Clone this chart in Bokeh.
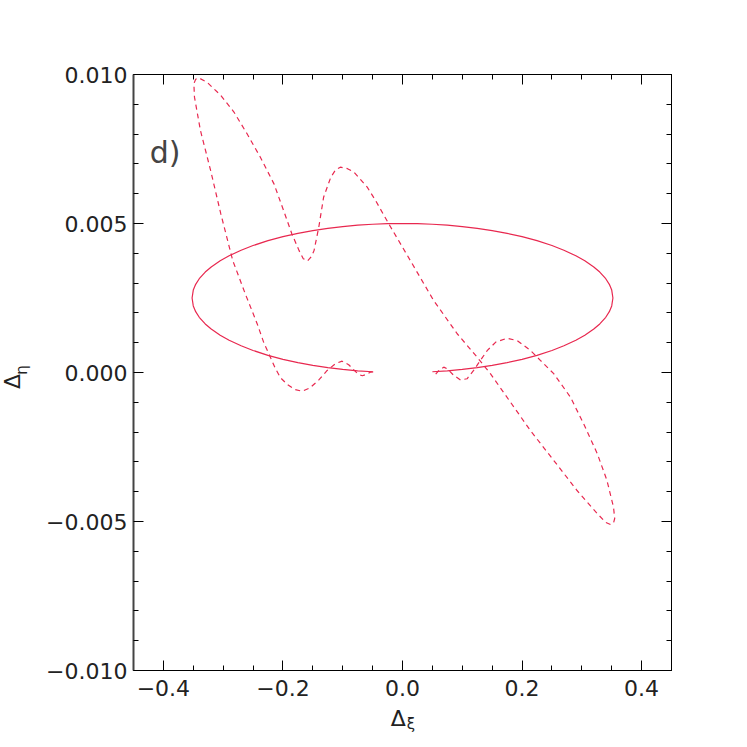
from bokeh.plotting import figure
from bokeh.models import LinearAxis, FixedTicker, CustomJSTickFormatter, Range1d, Label
from bokeh.embed import file_html
from bokeh.resources import INLINE

# ---- data ----
ell_x = [-0.050, -0.075, -0.100, -0.125, -0.150, -0.175, -0.200, -0.225, -0.250, -0.270,
         -0.290, -0.305, -0.320, -0.330, -0.340, -0.346, -0.350, -0.352,
         -0.350, -0.346, -0.340, -0.330, -0.320, -0.305, -0.290, -0.270, -0.250, -0.225,
         -0.200, -0.175, -0.150, -0.125, -0.100, -0.075, -0.050, -0.025, 0.000,
         0.025, 0.050, 0.075, 0.100, 0.125, 0.150, 0.175, 0.200, 0.225, 0.250, 0.270,
         0.290, 0.305, 0.320, 0.330, 0.340, 0.346, 0.350, 0.352,
         0.350, 0.346, 0.340, 0.330, 0.320, 0.305, 0.290, 0.270, 0.250, 0.225,
         0.200, 0.175, 0.150, 0.125, 0.100, 0.075, 0.050]
ell_y = [0.000025, 0.0000575, 0.000103, 0.000163, 0.000238, 0.000331, 0.000443, 0.000577, 0.000740, 0.000896,
         0.001083, 0.001252, 0.001458, 0.001630, 0.001853, 0.002041, 0.002233, 0.002500,
         0.002767, 0.002959, 0.003147, 0.003370, 0.003542, 0.003748, 0.003917, 0.004104, 0.004260, 0.004423,
         0.004557, 0.004669, 0.004762, 0.004837, 0.004897, 0.004943, 0.004975, 0.004994, 0.005000,
         0.004994, 0.004975, 0.004943, 0.004897, 0.004837, 0.004762, 0.004669, 0.004557, 0.004423, 0.004260, 0.004104,
         0.003917, 0.003748, 0.003542, 0.003370, 0.003147, 0.002959, 0.002767, 0.002500,
         0.002233, 0.002041, 0.001853, 0.001630, 0.001458, 0.001252, 0.001083, 0.000896, 0.000740, 0.000577,
         0.000443, 0.000331, 0.000238, 0.000163, 0.000103, 0.0000575, 0.000025]

dash_x = [-0.049, -0.054, -0.060, -0.067, -0.074, -0.081, -0.090, -0.101, -0.112, -0.126,
          -0.140, -0.155, -0.168, -0.180, -0.192, -0.204, -0.213, -0.221, -0.232, -0.243,
          -0.263, -0.284, -0.304, -0.321, -0.338, -0.348, -0.349, -0.346, -0.341, -0.327,
          -0.304, -0.282, -0.260, -0.238, -0.215, -0.199, -0.185, -0.173, -0.166, -0.159,
          -0.152, -0.148, -0.140, -0.132, -0.120, -0.112, -0.104, -0.092, -0.081, -0.059,
          -0.045, -0.023, 0.013, 0.052, 0.0915, 0.125, 0.147, 0.178, 0.214,
          0.253, 0.292, 0.326, 0.340, 0.348, 0.353, 0.355, 0.353, 0.342, 0.326,
          0.303, 0.281, 0.253, 0.231, 0.214, 0.192, 0.175, 0.156, 0.142, 0.130,
          0.119, 0.108, 0.097, 0.086, 0.075, 0.069, 0.061, 0.055, 0.052]
dash_y = [0.00002, 0.00001, -0.00006, -0.00011, -0.00006, 0.00008, 0.00026, 0.00038, 0.00030, 0.00007,
          -0.00025, -0.00052, -0.00063, -0.00057, -0.00041, -0.00018, 0.00015, 0.00051, 0.00100, 0.00163,
          0.00264, 0.00376, 0.00533, 0.00678, 0.00812, 0.00924, 0.00969, 0.00984, 0.00989, 0.00974,
          0.00930, 0.00874, 0.00801, 0.00723, 0.00633, 0.00544, 0.00465, 0.00409, 0.00382, 0.00374,
          0.00390, 0.00409, 0.00488, 0.00588, 0.00655, 0.00680, 0.00689, 0.00684, 0.00672, 0.00622,
          0.00577, 0.00499, 0.00376, 0.00242, 0.00130, 0.00051, -0.00004, -0.00092, -0.00195,
          -0.00295, -0.00396, -0.00474, -0.00503, -0.00510, -0.00505, -0.00490, -0.00452, -0.00362, -0.00273,
          -0.00172, -0.00083, -0.00004, 0.00040, 0.00074, 0.00107, 0.00115, 0.00102, 0.00074, 0.00040,
          0.00007, -0.00021, -0.00025, -0.00010, 0.00012, 0.00018, 0.00007, -0.00007, 0.00000]

x_major = [-0.4, -0.2, 0.0, 0.2, 0.4]
x_minor = [-0.45, -0.35, -0.3, -0.25, -0.15, -0.1, -0.05, 0.05, 0.1, 0.15, 0.25, 0.3, 0.35, 0.45]
y_major = [-0.010, -0.005, 0.0, 0.005, 0.010]
y_minor = [-0.009, -0.008, -0.007, -0.006, -0.004, -0.003, -0.002, -0.001,
           0.001, 0.002, 0.003, 0.004, 0.006, 0.007, 0.008, 0.009]

panel_label = "d)"
x_title_main, x_title_sub = "\u0394", "\u03be"
y_title_main, y_title_sub = "\u0394", "\u03b7"

RED = "#e8284f"
FONT = "DejaVu Sans"

p = figure(width=731, height=741, x_range=Range1d(-0.45, 0.45), y_range=Range1d(-0.010, 0.010),
           output_backend="svg", toolbar_location=None,
           min_border_left=133, min_border_right=60, min_border_top=74, min_border_bottom=71)
p.grid.visible = False
p.outline_line_color = "black"
p.background_fill_color = "white"
p.border_fill_color = "white"

xt = FixedTicker(ticks=x_major, minor_ticks=x_minor)
yt = FixedTicker(ticks=y_major, minor_ticks=y_minor)
xfmt = CustomJSTickFormatter(code="return (tick < -1e-12 ? '\\u2212' : '') + Math.abs(tick).toFixed(1);")
yfmt = CustomJSTickFormatter(code="return (tick < -1e-12 ? '\\u2212' : '') + Math.abs(tick).toFixed(3);")
blank = CustomJSTickFormatter(code="return '';")

def style(ax):
    ax.major_tick_in = 10
    ax.major_tick_out = 0
    ax.minor_tick_in = 5
    ax.minor_tick_out = 0
    ax.axis_line_color = "black"
    ax.major_tick_line_color = "black"
    ax.minor_tick_line_color = "black"
    ax.major_label_text_font = FONT
    ax.major_label_text_font_size = "22px"
    ax.major_label_text_color = "#222222"

bx = p.xaxis[0]
bx.ticker = xt
bx.formatter = xfmt
style(bx)
bx.major_label_standoff = 9

ly = p.yaxis[0]
ly.ticker = yt
ly.formatter = yfmt
style(ly)
ly.major_label_standoff = 6
ly.axis_line_width = 2
ly.axis_line_color = "#444444"

tx = LinearAxis(ticker=xt, formatter=blank)
style(tx)
tx.major_label_text_font_size = "1px"
p.add_layout(tx, "above")
ry = LinearAxis(ticker=yt, formatter=blank)
style(ry)
ry.major_label_text_font_size = "1px"
p.add_layout(ry, "right")

p.line(ell_x, ell_y, line_color=RED, line_width=1.2)
p.line(dash_x, dash_y, line_color=RED, line_width=1.2, line_dash="5 4")

p.add_layout(Label(x=-0.423, y=0.00738, text=panel_label, text_font=FONT, text_font_size="30px",
                   text_color="#444444", text_baseline="alphabetic", text_align="left"))

# x axis title (placed in the bottom panel so it is not clipped to the frame)
p.add_layout(Label(x=-0.007, y=-0.01161, text=x_title_main, text_font=FONT, text_font_size="22px",
                   text_color="#222222", text_align="center", text_baseline="alphabetic"), "below")
p.add_layout(Label(x=0.007, y=-0.01180, text=x_title_sub, text_font=FONT, text_font_size="15px",
                   text_color="#222222", text_align="left", text_baseline="alphabetic"), "below")
# y axis title (rotated), in the left panel
p.add_layout(Label(x=-0.652, y=-0.0003, text=y_title_main, text_font=FONT, text_font_size="22px",
                   text_color="#222222", text_align="center", text_baseline="middle", angle=1.5708), "left")
p.add_layout(Label(x=-0.636, y=0.00008, text=y_title_sub, text_font=FONT, text_font_size="15px",
                   text_color="#222222", text_align="center", text_baseline="middle", angle=1.5708), "left")

open("out.html", "w").write(file_html(p, INLINE))
